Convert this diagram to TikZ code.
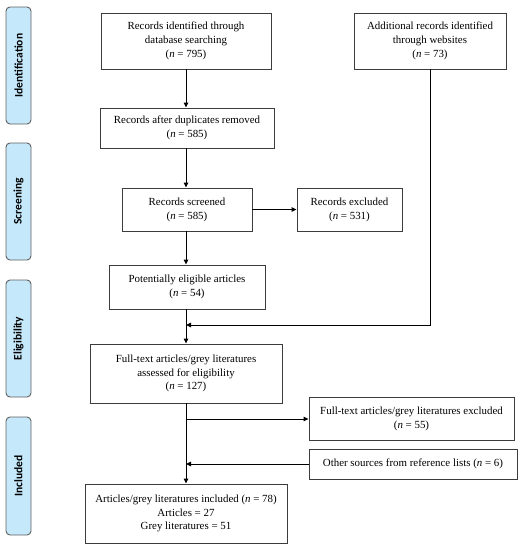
\documentclass[tikz,border=0pt]{standalone}
\usepackage{fontspec}
\setmainfont{Liberation Serif}
\newfontfamily\phasefont{Carlito}
\usetikzlibrary{arrows.meta}
\definecolor{phasefill}{RGB}{197,232,250}
\definecolor{phaseline}{RGB}{95,95,95}
\definecolor{boxline}{RGB}{60,60,60}
\tikzset{
  box/.style={draw=boxline, line width=0.9pt, fill=white, align=center, inner sep=2pt,
    font=\fontsize{10.9}{13.8}\selectfont},
  phase/.style={draw=phaseline, line width=0.9pt, fill=phasefill, rounded corners=4pt,
    minimum height=25pt, inner sep=0pt, rotate=90, font=\phasefont\bfseries\fontsize{11.5}{13}\selectfont},
  arr/.style={line width=0.9pt, -{Triangle[length=5pt,width=4.5pt]}},
  ln/.style={line width=0.9pt}
}
\begin{document}
\begin{tikzpicture}[x=1pt,y=-1pt]
\useasboundingbox (0,0) rectangle (523,550);
% phases
\node[phase, minimum width=117pt] (p1) at (18.5,65.5) {Identification};
\node[phase, minimum width=117pt] (p2) at (18.5,201.5) {Screening};
\node[phase, minimum width=117pt] (p3) at (18.5,338.5) {Eligibility};
\node[phase, minimum width=118pt] (p4) at (18.5,476) {Included};
% boxes
\node[box, minimum width=170pt, minimum height=56pt] (b1) at (186,41)
  {Records identified through\\database searching\\(\textit{n} = 795)};
\node[box, minimum width=152pt, minimum height=56pt] (b2) at (430,41)
  {Additional records identified\\through websites\\(\textit{n} = 73)};
\node[box, minimum width=174pt, minimum height=40pt] (b3) at (187,128)
  {Records after duplicates removed\\(\textit{n} = 585)};
\node[box, minimum width=130pt, minimum height=43pt] (b4) at (187,209.5)
  {Records screened\\(\textit{n} = 585)};
\node[box, minimum width=105pt, minimum height=43pt] (b5) at (349.5,209.5)
  {Records excluded\\(\textit{n} = 531)};
\node[box, minimum width=156pt, minimum height=44pt] (b6) at (187,287)
  {Potentially eligible articles\\(\textit{n} = 54)};
\node[box, minimum width=192pt, minimum height=59pt] (b7) at (186,373.5)
  {Full-text articles/grey literatures\\assessed for eligibility\\(\textit{n} = 127)};
\node[box, minimum width=205pt, minimum height=43pt] (b8) at (411.5,418.5)
  {Full-text articles/grey literatures excluded\\(\textit{n} = 55)};
\node[box, minimum width=208pt, minimum height=30pt] (b9) at (413,464)
  {Other sources from reference lists (\textit{n} = 6)};
\node[box, minimum width=202pt, minimum height=59pt] (b10) at (186,513.5)
  {Articles/grey literatures included (\textit{n} = 78)\\Articles = 27\\Grey literatures = 51};
% junction coordinates
\coordinate (j1) at (186,325);
\coordinate (j2) at (186,419);
\coordinate (j3) at (186,464);
% connectors
\draw[arr] (b1.south -| j1) -- (b3.north -| j1);
\draw[arr] (b3.south -| j1) -- (b4.north -| j1);
\draw[arr] (b4.south -| j1) -- (b6.north -| j1);
\draw[arr] (b4.east) -- (b5.west);
\draw[arr] (b6.south -| j1) -- (b7.north -| j1);
\draw[arr] (b2.south) -- (b2.south |- j1) -- (j1);
\draw[arr] (b7.south -| j1) -- (b10.north -| j1);
\draw[arr] (j2) -- (b8.west |- j2);
\draw[arr] (b9.west) -- (j3);
\end{tikzpicture}
\end{document}
